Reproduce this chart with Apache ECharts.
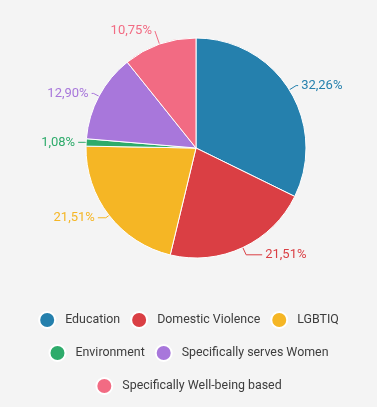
<!DOCTYPE html>
<html>
<head>
<meta charset="utf-8">
<script src="https://cdn.jsdelivr.net/npm/echarts@6/dist/echarts.min.js"></script>
<style>
  html, body { margin: 0; padding: 0; background: #f4f4f4; }
  #main { width: 377px; height: 407px; }
</style>
</head>
<body>
<div id="main"></div>
<script>
// categories and counts (percent labels are computed from these)
var categories = ['Education', 'Domestic Violence', 'LGBTIQ', 'Environment', 'Specifically serves Women', 'Specifically Well-being based'];
var counts = [30, 20, 20, 1, 12, 10];
var colors = ['#2580ad', '#da3f44', '#f5b625', '#2eab6b', '#a877db', '#f26b83'];
// legend rows, as in the picture
var legendRows = [
    ['Education', 'Domestic Violence', 'LGBTIQ'],
    ['Environment', 'Specifically serves Women'],
    ['Specifically Well-being based']
];
// label line lengths per slice [length, length2]
var lineLens = [[8, 2], [8, 16], [4, 8], [2, 6], [6, 2], [14, 0]];

function renderPie() {
    var dom = document.getElementById('main');
    var myChart = echarts.init(dom);
    var total = counts.reduce(function (a, b) { return a + b; }, 0);

    var data = categories.map(function (name, i) {
        return {
            name: name,
            value: counts[i],
            labelLine: { length: lineLens[i][0], length2: lineLens[i][1] }
        };
    });

    var legends = legendRows.map(function (row, i) {
        return {
            data: row,
            left: 'center',
            top: 311 + i * 33,
            padding: 0,
            orient: 'horizontal',
            icon: 'circle',
            itemWidth: 16,
            itemHeight: 16,
            itemGap: 10,
            textStyle: {
                color: '#3d3d3d',
                fontSize: 12.4,
                fontFamily: 'Roboto',
                padding: [0, 0, 0, 5]
            }
        };
    });

    var option = {
        backgroundColor: '#f4f4f4',
        color: colors,
        animation: false,
        legend: legends,
        series: [{
            type: 'pie',
            center: [196, 148],
            radius: [0, 110],
            startAngle: 90,
            itemStyle: {
                borderColor: '#ffffff',
                borderWidth: 1
            },
            label: {
                show: true,
                fontSize: 13,
                fontFamily: 'Roboto',
                distanceToLabelLine: 3,
                formatter: function (p) {
                    return (p.value / total * 100).toFixed(2).replace('.', ',') + '%';
                },
                color: 'inherit'
            },
            labelLine: {
                show: true,
                lineStyle: { width: 1 }
            },
            data: data
        }]
    };

    myChart.setOption(option);
}
renderPie();
</script>
</body>
</html>
